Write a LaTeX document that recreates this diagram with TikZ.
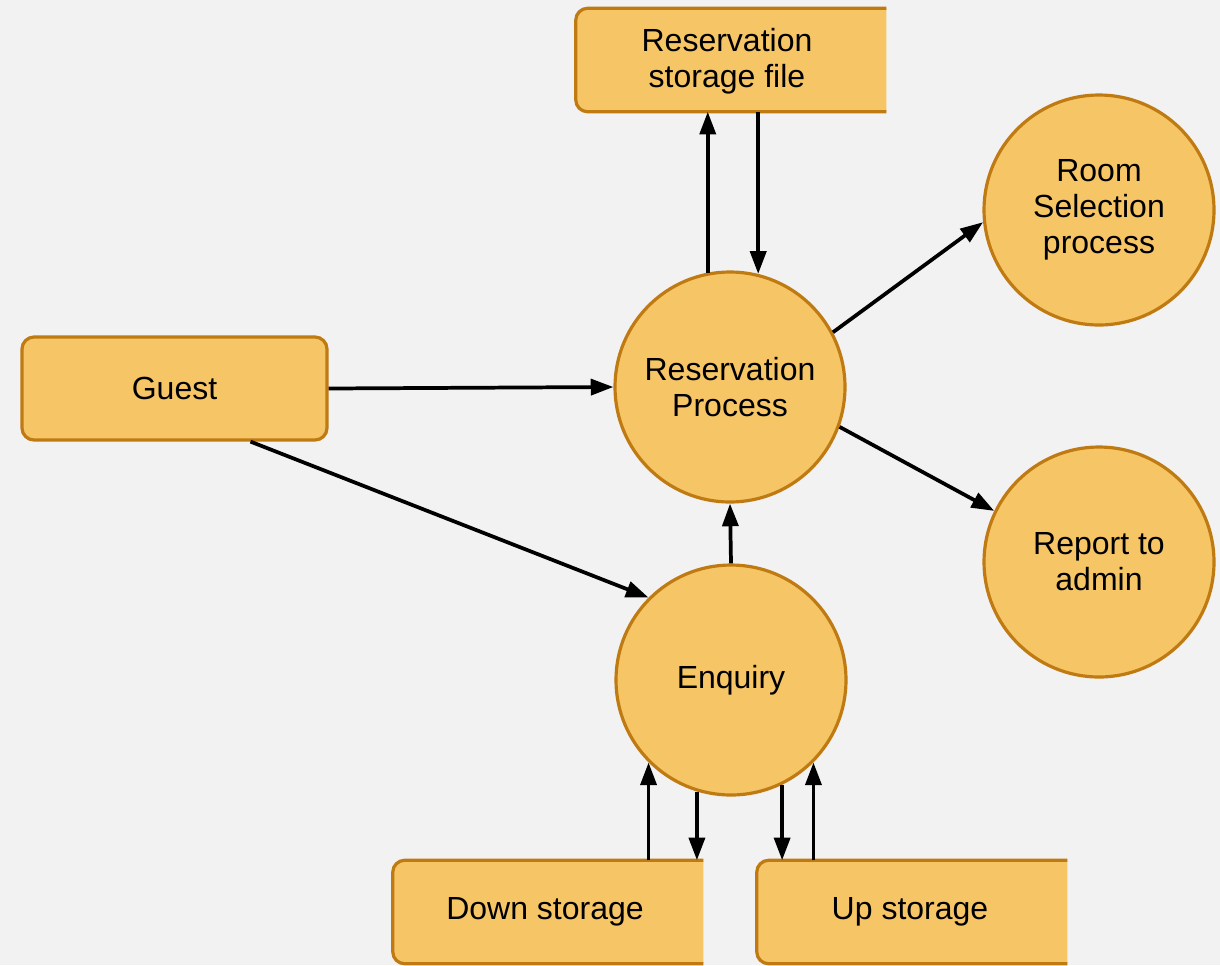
\documentclass[tikz,border=0pt]{standalone}
\usepackage{fontspec}
\setmainfont{Liberation Sans}
\usetikzlibrary{arrows.meta,calc}
\definecolor{bgc}{RGB}{242,242,242}
\definecolor{fillc}{RGB}{245,197,102}
\definecolor{strokec}{RGB}{192,122,18}
\tikzset{
  every node/.style={font=\fontsize{24}{27}\selectfont, text=black},
  proc/.style={circle, draw=strokec, fill=fillc, line width=2.4pt, minimum size=172.5pt, inner sep=0pt, align=center},
  ent/.style={rectangle, rounded corners=9pt, draw=strokec, fill=fillc, line width=2.4pt, minimum width=228.75pt, minimum height=77.25pt, align=center},
  store/.style={rectangle, minimum width=232.5pt, minimum height=77.25pt, inner sep=0pt, align=center},
  storeshape/.style={fill=fillc, draw=strokec, line width=2.4pt, rounded corners=9pt},
  flow/.style={line width=2.8pt, -{Triangle[length=17pt,width=12pt]}},
}
\newcommand{\storeoutline}[1]{%
  \path[storeshape] (#1.north east) -- (#1.north west) -- (#1.south west) -- (#1.south east);}
\begin{document}
\begin{tikzpicture}[x=0.75pt,y=-0.75pt]
\useasboundingbox[fill=bgc] (0,0) rectangle (1220,965);
% data stores
\node[store] (rsf) at (731,60) {};
\storeoutline{rsf}
\node[align=center] at (727,61) {Reservation\\storage file};
\node[store] (ds) at (548,912) {};
\storeoutline{ds}
\node at (545,912) {Down storage};
\node[store] (us) at (912,912) {};
\storeoutline{us}
\node at (910,912) {Up storage};
% entity
\node[ent] (guest) at (174.5,388.5) {Guest};
% processes
\node[proc] (rp) at (730,387) {Reservation\\Process};
\node[proc] (room) at (1099,210) {Room\\Selection\\process};
\node[proc] (rep) at (1099,562) {Report to\\admin};
\node[proc] (enq) at (731,680) {Enquiry};
% flows
\draw[flow] (rp.101) -- (rp.101 |- rsf.south);
\draw[flow] (rp.76 |- rsf.south) -- (rp.76);
\draw[flow] (guest.east) -- (rp.west);
\coordinate (gout) at ($(guest.south)+(76,0)$);
\draw[flow] (gout) -- (enq.135);
\draw[flow] (rp.28) -- (room.186);
\draw[flow] (rp.-20) -- (rep.154);
\draw[flow] (enq.north) -- (rp.south);
\draw[flow] (enq.225 |- ds.north) -- (enq.225);
\draw[flow] (enq.253) -- (enq.253 |- ds.north);
\draw[flow] (enq.296) -- (enq.296 |- us.north);
\draw[flow] (enq.315 |- us.north) -- (enq.315);
\end{tikzpicture}
\end{document}
